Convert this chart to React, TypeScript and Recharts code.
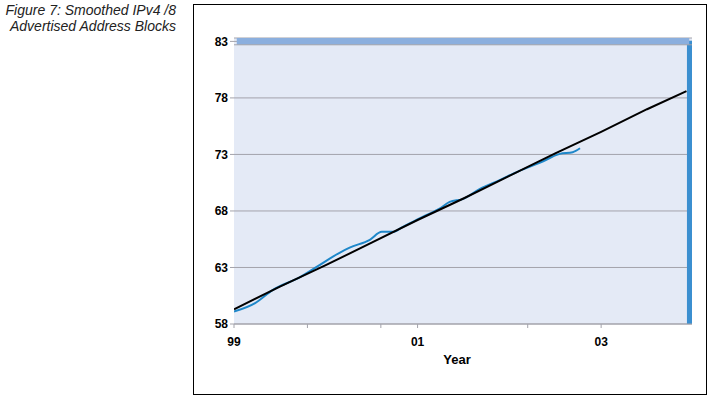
import { LineChart, Line, XAxis, YAxis, CartesianGrid, ReferenceArea, ReferenceLine } from 'recharts';

const fitYears = [1999, 1999.5, 2000, 2000.5, 2001, 2001.5, 2002, 2002.5, 2003, 2003.5, 2003.93];
const fitValues = [59.3, 61.3, 63.2, 65.2, 67.2, 69.1, 71.1, 73.1, 75.0, 77.0, 78.6];

const actualYears = [
  1999.0, 1999.23, 1999.42, 1999.72, 1999.9, 2000.15, 2000.26, 2000.48, 2000.61, 2000.73, 2000.84,
  2001.06, 2001.24, 2001.35, 2001.49, 2001.68, 2001.9, 2002.11, 2002.33, 2002.55, 2002.69, 2002.77,
];
const actualValues = [
  59.1, 59.85, 61.0, 62.15, 63.05, 64.3, 64.75, 65.45, 66.15, 66.15, 66.6,
  67.5, 68.2, 68.8, 69.05, 69.95, 70.75, 71.55, 72.25, 73.05, 73.2, 73.55,
];

const yTicks = [58, 63, 68, 73, 78, 83];
const xTicks = [1999, 1999.8, 2000.6, 2001, 2002.2, 2003];
const xTickLabels: Record<number, string> = { 1999: '99', 2001: '01', 2003: '03' };

const fitData = fitYears.map((year, i) => ({ year, value: fitValues[i] }));
const actualData = actualYears.map((year, i) => ({ year, value: actualValues[i] }));

const tickFont = {
  fontFamily: '"Liberation Sans", Arial, sans-serif',
  fontSize: 12,
  fontWeight: 700,
  fill: '#000',
};

export default function App() {
  return (
    <div style={{ position: 'absolute', left: 0, top: 0, width: 709, height: 397, background: '#fff' }}>
      <div
        style={{
          position: 'absolute',
          left: 0,
          top: 2,
          width: 176,
          textAlign: 'right',
          fontFamily: '"Liberation Sans", Arial, sans-serif',
          fontStyle: 'italic',
          fontSize: 14,
          lineHeight: '16px',
          color: '#222',
          whiteSpace: 'nowrap',
        }}
      >
        Figure 7: Smoothed IPv4 /8
        <br />
        Advertised Address Blocks
      </div>
      <div
        style={{
          position: 'absolute',
          left: 193,
          top: 4,
          width: 512,
          height: 389,
          border: '1px solid #000',
        }}
      />
      <div style={{ position: 'absolute', left: 0, top: 0 }}>
        <LineChart width={709} height={397} margin={{ top: 38, right: 17, bottom: 31, left: 194 }}>
          <CartesianGrid vertical={false} stroke="#a3a3ab" fill="#e4eaf6" />
          <ReferenceArea x1={2003.935} x2={2003.99} y1={58} y2={83.05} fill="#3b8fd0" fillOpacity={1} stroke="none" />
          <ReferenceArea x1={1999.03} x2={2003.96} y1={82.7} y2={83.3} fill="#8bafde" fillOpacity={1} stroke="none" />
          <ReferenceLine y={82.7} stroke="#a3a3ab" />
          <XAxis
            type="number"
            dataKey="year"
            domain={[1999, 2003.99]}
            ticks={xTicks}
            tickFormatter={(v: number) => xTickLabels[v] ?? ''}
            interval={0}
            height={42}
            tickSize={4}
            tickMargin={9}
            stroke="#a3a3ab"
            tick={tickFont}
            allowDataOverflow
            label={{ value: 'Year', position: 'insideBottom', offset: 2, dx: -6, style: { ...tickFont, fontSize: 13 } }}
          />
          <YAxis
            type="number"
            domain={[58, 83.3]}
            ticks={yTicks}
            interval={0}
            width={40}
            axisLine={false}
            tickSize={4}
            tickMargin={2}
            stroke="#a3a3ab"
            tick={tickFont}
            allowDataOverflow
          />
          <Line
            data={actualData}
            dataKey="value"
            type="monotone"
            stroke="#1e87c9"
            strokeWidth={2}
            dot={false}
            isAnimationActive={false}
          />
          <Line
            data={fitData}
            dataKey="value"
            type="linear"
            stroke="#000"
            strokeWidth={2}
            dot={false}
            isAnimationActive={false}
          />
        </LineChart>
      </div>
    </div>
  );
}
